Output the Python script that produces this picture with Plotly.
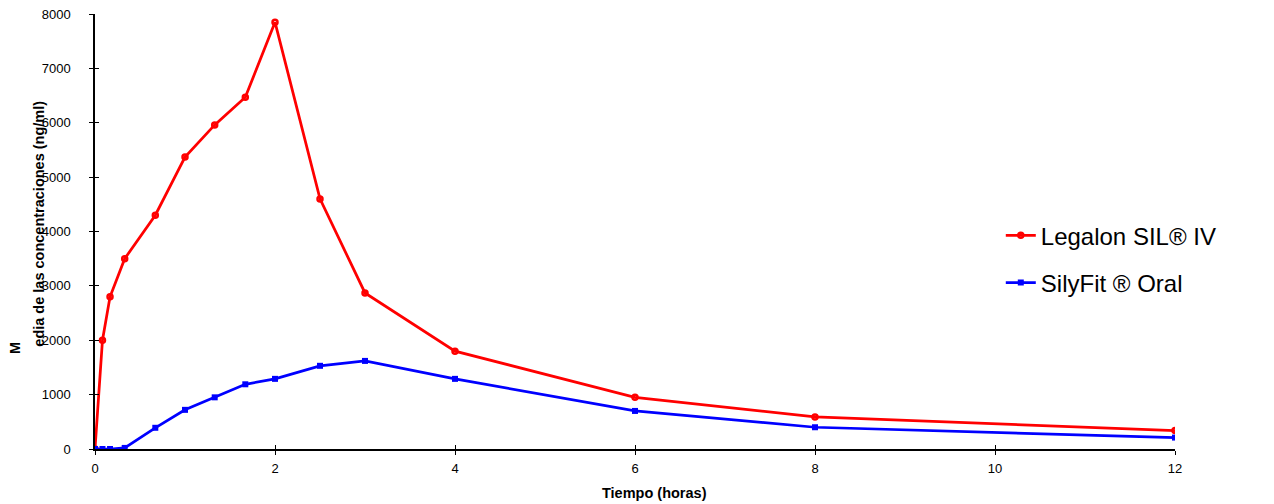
import plotly.graph_objects as go

tiempo = [0, 0.083, 0.167, 0.33, 0.67, 1.0, 1.33, 1.67, 2.0, 2.5, 3.0, 4, 6, 8, 12]
legalon_iv = [0, 2000, 2800, 3500, 4300, 5370, 5960, 6470, 7850, 4600, 2870, 1800, 950, 590, 340]
silyfit_oral = [0, 0, 0, 20, 390, 720, 950, 1190, 1290, 1530, 1620, 1290, 700, 400, 210]

x_ticks = [0, 2, 4, 6, 8, 10, 12]
y_ticks = [0, 1000, 2000, 3000, 4000, 5000, 6000, 7000, 8000]

FONT = "Liberation Sans, Arial, sans-serif"

fig = go.Figure()
fig.add_trace(go.Scatter(
    x=tiempo, y=legalon_iv, mode="lines+markers", name="Legalon SIL\u00ae IV",
    legendgroup="a",
    line=dict(color="#FF0000", width=2.75),
    marker=dict(symbol="circle-open", size=5, color="#FF0000", line=dict(width=2.5, color="#FF0000")),
))
fig.add_trace(go.Scatter(
    x=tiempo, y=silyfit_oral, mode="lines+markers", name="SilyFit \u00ae Oral",
    legendgroup="b",
    line=dict(color="#0000FF", width=2.75),
    marker=dict(symbol="square", size=6, color="#0000FF"),
))

common_axis = dict(showgrid=False, zeroline=False, tickcolor="black", tickfont=dict(size=13),
                   automargin=False)

fig.update_layout(
    width=1266, height=496,
    margin=dict(l=87, r=99, t=6, b=55),
    paper_bgcolor="white", plot_bgcolor="white",
    font=dict(family=FONT, size=13, color="black"),
    showlegend=True,
    legend=dict(
        x=0.8387, y=0.542, xanchor="left", yanchor="top",
        font=dict(family=FONT, size=24, color="black"),
        bgcolor="rgba(0,0,0,0)", tracegroupgap=13, traceorder="grouped", itemwidth=30,
    ),
    xaxis=dict(
        range=[0, 12], tickvals=x_ticks, ticktext=[str(v) for v in x_ticks],
        showline=True, linecolor="black", linewidth=1.5, ticklabeloverflow="allow",
        ticks="outside", ticklen=4, ticklabelstandoff=3, **common_axis,
    ),
    yaxis=dict(
        range=[0, 8000], tickvals=y_ticks, ticktext=[str(v) for v in y_ticks],
        showline=True, linecolor="black", linewidth=1.5, ticklabeloverflow="allow",
        ticks="outside", ticklen=4, ticklabelstandoff=16, **common_axis,
    ),
    xaxis2=dict(
        overlaying="x", range=[0, 12], tickvals=x_ticks, showticklabels=False,
        showline=False, ticks="inside", ticklen=4, side="bottom", **common_axis,
    ),
    yaxis2=dict(
        overlaying="y", range=[0, 8000], tickvals=y_ticks, showticklabels=False,
        showline=False, ticks="inside", ticklen=4, side="left", **common_axis,
    ),
    annotations=[
        dict(text="<b>Tiempo (horas)</b>", xref="paper", yref="paper", x=0.5176, y=0,
             xanchor="center", yanchor="middle", yshift=-44, showarrow=False,
             font=dict(size=14.5, family=FONT)),
        dict(text="<b>M</b>", xref="paper", yref="paper", x=0, y=0.232,
             xanchor="center", yanchor="middle", xshift=-80, showarrow=False, textangle=-90,
             font=dict(size=14.5, family=FONT)),
        dict(text="<b>edia de las concentraciones (ng/ml)</b>", xref="paper", yref="paper",
             x=0, y=0.518, xanchor="center", yanchor="middle", xshift=-56, showarrow=False,
             textangle=-90, font=dict(size=14.5, family=FONT)),
    ],
)

# invisible helper trace so the overlaid tick axes are drawn
fig.add_trace(go.Scatter(x=[None], y=[None], xaxis="x2", yaxis="y2", showlegend=False,
                         hoverinfo="skip"))

fig.write_html("out.html")
